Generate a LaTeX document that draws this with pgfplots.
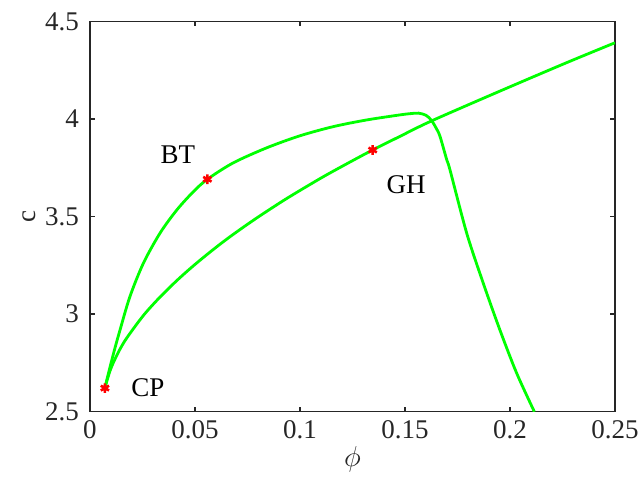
\documentclass[border=0pt]{standalone}
\usepackage{fontspec}
\setmainfont{Liberation Serif}
\usepackage{pgfplots}
\pgfplotsset{compat=1.18}
\definecolor{axgray}{RGB}{38,38,38}

\pgfplotstableread{
x y
0.0071 2.620
0.0083 2.675
0.0097 2.735
0.0120 2.830
0.0143 2.918
0.0190 3.089
0.0254 3.260
0.0333 3.414
0.0413 3.533
0.0492 3.627
0.0559 3.691
0.0682 3.775
0.0841 3.852
0.1000 3.914
0.1159 3.961
0.1317 3.995
0.1476 4.021
0.1530 4.028
0.1565 4.030
0.1600 4.019
0.1626 3.993
0.1650 3.950
0.1667 3.910
0.1699 3.790
0.1714 3.740
0.1794 3.414
0.1873 3.157
0.1952 2.918
0.2032 2.696
0.2116 2.499
}\upperbranch

\pgfplotstableread{
x y
0.0071 2.620
0.0080 2.655
0.0095 2.707
0.0111 2.750
0.0140 2.814
0.0175 2.877
0.0254 2.992
0.0330 3.083
0.0413 3.171
0.0490 3.245
0.0571 3.317
0.0650 3.383
0.0730 3.445
0.0810 3.504
0.0920 3.581
0.1010 3.640
0.1111 3.704
0.1200 3.757
0.1286 3.807
0.1346 3.841
0.1476 3.911
0.1626 3.990
0.1952 4.143
0.2270 4.289
0.2500 4.391
}\lowerbranch

\pgfplotstableread{
x y
0.0071 2.620
0.0559 3.691
0.1346 3.841
}\specialpts

\begin{document}
\begin{tikzpicture}
\begin{axis}[
  scale only axis,
  width=262.5pt, height=195pt,
  xmin=0, xmax=0.25, ymin=2.5, ymax=4.5,
  xtick={0,0.05,0.1,0.15,0.2,0.25},
  xticklabels={0,0.05,0.1,0.15,0.2,0.25},
  ytick={2.5,3,3.5,4,4.5},
  yticklabels={2.5,3,3.5,4,4.5},
  tick align=inside,
  major tick length=2.5pt,
  axis line style={axgray, line width=0.8pt},
  every tick/.style={axgray, line width=0.8pt},
  tick label style={font=\fontsize{13.5}{16}\selectfont, text=axgray},
  xticklabel style={yshift=-1pt},
  yticklabel style={xshift=-2pt},
  xlabel={$\phi$},
  ylabel={c},
  label style={font=\fontsize{13.5}{16}\selectfont, text=axgray},
  xlabel style={yshift=3pt},
  ylabel style={yshift=-2pt},
  clip=true,
]
\addplot[green, line width=1.4pt, no marks, smooth, tension=0.5] table {\upperbranch};
\addplot[green, line width=1.4pt, no marks, smooth, tension=0.5] table {\lowerbranch};
\addplot[only marks, red, mark=asterisk, mark size=2.4pt, line width=1.3pt] table {\specialpts};
\node[font=\fontsize{13.5}{16}\selectfont] at (axis cs:0.0419,3.815) {BT};
\node[font=\fontsize{13.5}{16}\selectfont] at (axis cs:0.1505,3.661) {GH};
\node[font=\fontsize{13.5}{16}\selectfont] at (axis cs:0.0276,2.620) {CP};
\end{axis}
\pgfresetboundingbox
\useasboundingbox (-45pt,-34.75pt) rectangle (276pt,205.75pt);
\end{tikzpicture}
\end{document}
